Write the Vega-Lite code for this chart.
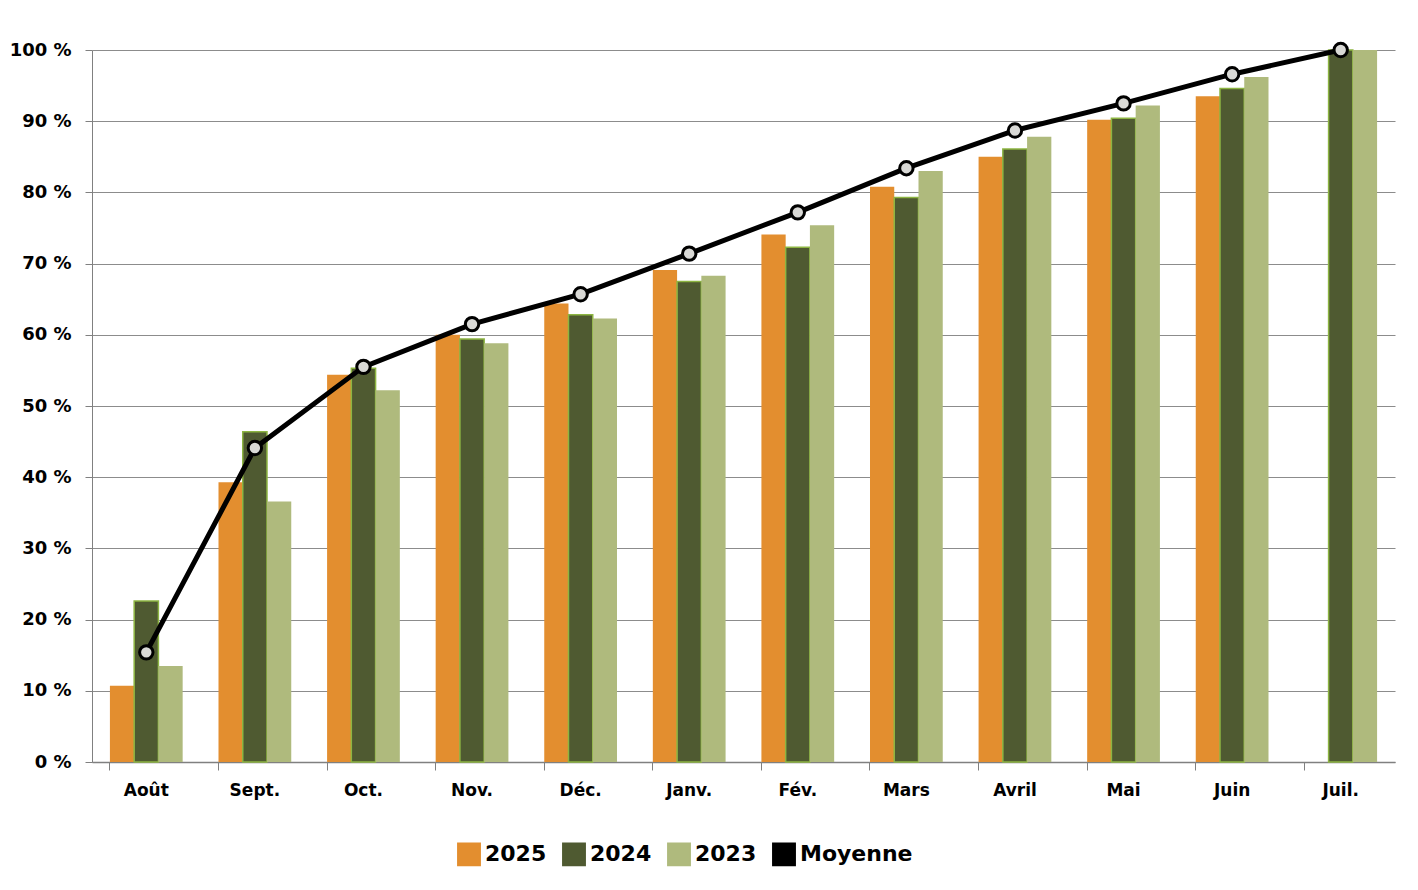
{
  "$schema": "https://vega.github.io/schema/vega-lite/v6.json",
  "width": 1303,
  "height": 712,
  "autosize": "none",
  "padding": {"left": 92, "top": 50, "right": 23, "bottom": 128},
  "background": "white",
  "config": {
    "font": "DejaVu Sans",
    "view": {"stroke": null},
    "axis": {"labelFont": "DejaVu Sans", "labelFontWeight": "bold", "labelColor": "black", "labelFontSize": 17}
  },
  "data": {"values": [
    {"mois": "Août", "serie": "2025", "v": 10.7}, {"mois": "Août", "serie": "2024", "v": 22.6}, {"mois": "Août", "serie": "2023", "v": 13.5}, {"mois": "Août", "serie": "Moyenne", "v": 15.4},
    {"mois": "Sept.", "serie": "2025", "v": 39.3}, {"mois": "Sept.", "serie": "2024", "v": 46.4}, {"mois": "Sept.", "serie": "2023", "v": 36.6}, {"mois": "Sept.", "serie": "Moyenne", "v": 44.1},
    {"mois": "Oct.", "serie": "2025", "v": 54.4}, {"mois": "Oct.", "serie": "2024", "v": 55.3}, {"mois": "Oct.", "serie": "2023", "v": 52.2}, {"mois": "Oct.", "serie": "Moyenne", "v": 55.5},
    {"mois": "Nov.", "serie": "2025", "v": 60.0}, {"mois": "Nov.", "serie": "2024", "v": 59.4}, {"mois": "Nov.", "serie": "2023", "v": 58.8}, {"mois": "Nov.", "serie": "Moyenne", "v": 61.5},
    {"mois": "Déc.", "serie": "2025", "v": 64.4}, {"mois": "Déc.", "serie": "2024", "v": 62.8}, {"mois": "Déc.", "serie": "2023", "v": 62.3}, {"mois": "Déc.", "serie": "Moyenne", "v": 65.7},
    {"mois": "Janv.", "serie": "2025", "v": 69.1}, {"mois": "Janv.", "serie": "2024", "v": 67.5}, {"mois": "Janv.", "serie": "2023", "v": 68.3}, {"mois": "Janv.", "serie": "Moyenne", "v": 71.4},
    {"mois": "Fév.", "serie": "2025", "v": 74.1}, {"mois": "Fév.", "serie": "2024", "v": 72.3}, {"mois": "Fév.", "serie": "2023", "v": 75.4}, {"mois": "Fév.", "serie": "Moyenne", "v": 77.2},
    {"mois": "Mars", "serie": "2025", "v": 80.8}, {"mois": "Mars", "serie": "2024", "v": 79.3}, {"mois": "Mars", "serie": "2023", "v": 83.0}, {"mois": "Mars", "serie": "Moyenne", "v": 83.4},
    {"mois": "Avril", "serie": "2025", "v": 85.0}, {"mois": "Avril", "serie": "2024", "v": 86.1}, {"mois": "Avril", "serie": "2023", "v": 87.8}, {"mois": "Avril", "serie": "Moyenne", "v": 88.7},
    {"mois": "Mai", "serie": "2025", "v": 90.2}, {"mois": "Mai", "serie": "2024", "v": 90.4}, {"mois": "Mai", "serie": "2023", "v": 92.2}, {"mois": "Mai", "serie": "Moyenne", "v": 92.5},
    {"mois": "Juin", "serie": "2025", "v": 93.5}, {"mois": "Juin", "serie": "2024", "v": 94.6}, {"mois": "Juin", "serie": "2023", "v": 96.2}, {"mois": "Juin", "serie": "Moyenne", "v": 96.6},
    {"mois": "Juil.", "serie": "2024", "v": 100}, {"mois": "Juil.", "serie": "2023", "v": 100}, {"mois": "Juil.", "serie": "Moyenne", "v": 100}
  ]},
  "encoding": {
    "x": {
      "field": "mois", "type": "nominal", "title": null,
      "sort": ["Août", "Sept.", "Oct.", "Nov.", "Déc.", "Janv.", "Fév.", "Mars", "Avril", "Mai", "Juin", "Juil."],
      "scale": {"paddingInner": 0.33, "paddingOuter": 0.165},
      "axis": {"labelAngle": 0, "labelPadding": 12, "bandPosition": 0, "tickSize": 8, "tickColor": "#808080", "domainColor": "#808080", "domainWidth": 1.5}
    },
    "y": {
      "field": "v", "type": "quantitative", "title": null,
      "scale": {"domain": [0, 100], "nice": false},
      "axis": {"values": [0, 10, 20, 30, 40, 50, 60, 70, 80, 90, 100], "labelExpr": "datum.value + ' %'", "gridColor": "#8c8c8c", "gridWidth": 1.2, "domainColor": "#808080", "tickColor": "#808080", "tickSize": 7, "labelPadding": 14, "labelFontSize": 18}
    }
  },
  "layer": [
    {
      "transform": [{"filter": "datum.serie != 'Moyenne'"}],
      "mark": {"type": "bar", "strokeWidth": 1.5},
      "encoding": {
        "xOffset": {"field": "serie", "sort": ["2025", "2024", "2023"]},
        "color": {
          "field": "serie", "type": "nominal",
          "scale": {"domain": ["2025", "2024", "2023", "Moyenne"], "range": ["#E38E2F", "#4F5A31", "#AFBA7D", "black"]},
          "legend": {"orient": "none", "legendX": 365, "legendY": 792, "direction": "horizontal", "title": null, "labelFontSize": 22, "labelFontWeight": "bold", "labelFont": "DejaVu Sans", "symbolType": "square", "symbolSize": 500, "columnPadding": 12, "labelOffset": 4}
        },
        "stroke": {"condition": {"test": "datum.serie == '2024'", "value": "#8DB542"}, "value": null}
      }
    },
    {
      "transform": [{"filter": "datum.serie == 'Moyenne'"}],
      "mark": {"type": "line", "color": "black", "strokeWidth": 5, "point": {"filled": true, "fill": "#D9D9D6", "stroke": "black", "strokeWidth": 3, "size": 180}},
      "encoding": {"color": {"field": "serie", "type": "nominal"}}
    }
  ]
}
